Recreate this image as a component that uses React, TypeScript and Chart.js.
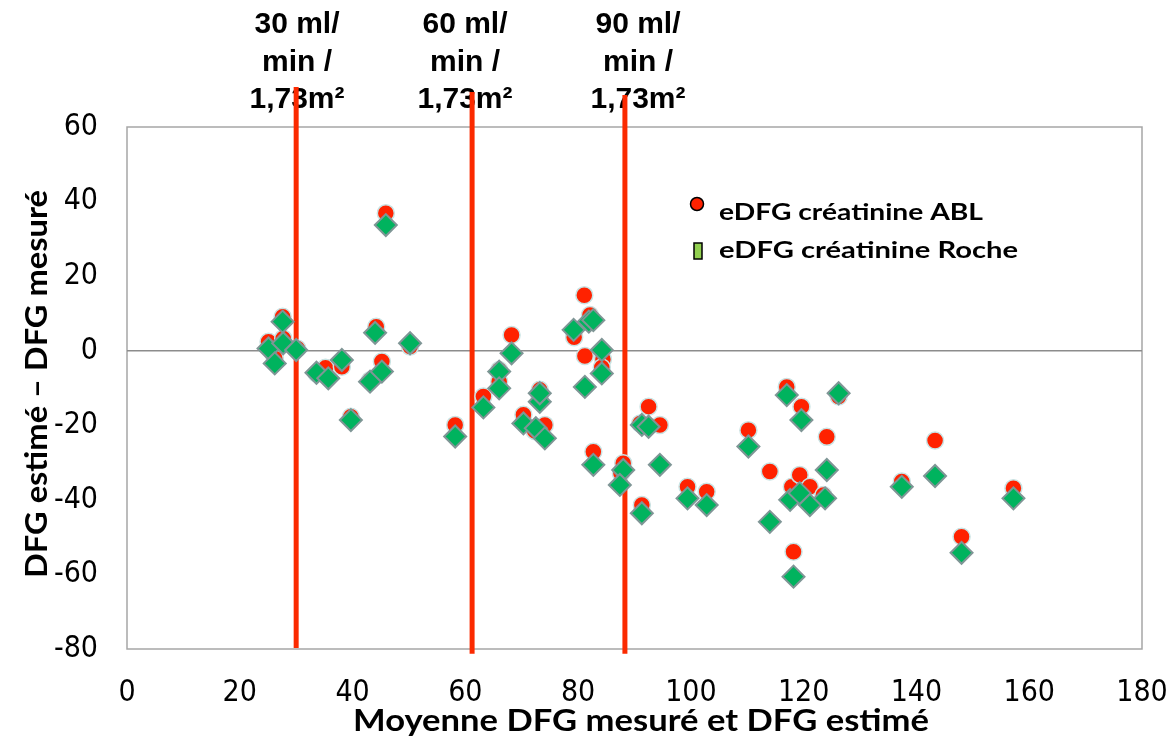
import React, { useEffect, useRef } from "react";
import { Chart, registerables } from "chart.js";

Chart.register(...registerables);

// Moyenne DFG mesuré / estimé (x) and difference estimé – mesuré (y)
const ablX = [25.1, 26.2, 27.6, 27.7, 30.2, 33.6, 35.2, 38.1, 39.7, 43.1, 44.2, 45.2, 45.9, 50.2,
  58.2, 63.2, 66.0, 66.0, 68.2, 70.3, 72.3, 73.2, 73.2, 74.1, 79.3, 81.1, 82.1, 81.2, 84.4, 84.2,
  82.7, 88.0, 87.6, 91.0, 92.5, 94.5, 91.3, 99.4, 102.8, 110.2, 114.0, 117.0, 117.9, 118.2, 119.3,
  119.6, 121.1, 123.5, 124.1, 126.2, 137.4, 143.3, 148.0, 157.2];
const ablY = [2.4, -2.0, 9.1, 3.3, 0.6, -6.1, -4.6, -4.3, -17.7, -7.9, 6.4, -2.9, 36.9, 1.1,
  -19.9, -12.3, -5.2, -8.3, 4.2, -17.2, -21.5, -10.5, -12.5, -19.9, 3.6, 14.9, 9.6, -1.4, -2.3, -4.5,
  -27.1, -30.2, -32.9, -19.5, -15.0, -19.9, -41.4, -36.5, -37.8, -21.3, -32.4, -9.7, -36.5, -53.9, -33.3,
  -15.0, -36.5, -38.7, -23.1, -12.3, -35.1, -24.1, -49.9, -36.9];

const rocheX = [25.1, 26.2, 27.6, 27.7, 30.0, 33.6, 35.7, 38.1, 39.7, 43.1, 44.0, 45.2, 45.9, 50.2,
  58.2, 63.2, 66.0, 66.0, 68.2, 70.3, 72.5, 73.2, 73.2, 74.1, 79.2, 81.9, 82.7, 81.2, 84.2, 84.2,
  82.7, 88.0, 87.4, 91.3, 92.5, 94.5, 91.3, 99.4, 102.8, 110.2, 114.0, 117.0, 117.6, 118.2, 119.3,
  119.6, 121.1, 123.8, 124.1, 126.2, 137.4, 143.3, 148.0, 157.2];
const rocheY = [0.6, -3.4, 7.8, 2.0, 0.2, -5.9, -7.4, -2.5, -18.6, -8.3, 4.8, -5.6, 33.7, 2.0,
  -23.0, -15.2, -5.6, -10.1, -0.7, -19.5, -20.8, -13.7, -11.4, -23.5, 5.6, 7.8, 8.2, -9.7, 0.2, -6.1,
  -30.6, -32.0, -36.0, -19.9, -20.4, -30.6, -43.6, -39.6, -41.4, -25.7, -45.9, -11.9, -40.0, -60.6, -38.2,
  -18.6, -41.4, -39.6, -32.0, -11.4, -36.5, -33.6, -54.2, -39.6];

// Seuils de DFG (ml/min/1,73m²)
const thresholdX = [30, 61.2, 88.3];
const thresholdTop = [70.7, 69.4, 68.6];
const thresholdBottom = [-79.7, -81.3, -81.3];
const thresholdLabels = [
  ["30 ml/", "min /", "1,73m²"],
  ["60 ml/", "min /", "1,73m²"],
  ["90 ml/", "min /", "1,73m²"],
];
const thresholdLabelCenter = [297, 465, 638];

const seriesNames = ["eDFG créatinine ABL", "eDFG créatinine Roche"];
const xTitle = "Moyenne DFG mesuré et DFG estimé";
const yTitle = "DFG estimé – DFG mesuré";

const X_MIN = 0, X_MAX = 180, X_STEP = 20;
const Y_MIN = -80, Y_MAX = 60, Y_STEP = 20;

function fitText(ctx: CanvasRenderingContext2D, text: string, x: number, y: number, width: number, align: CanvasTextAlign) {
  const w = ctx.measureText(text).width;
  const sx = width / w;
  ctx.save();
  ctx.translate(x, y);
  ctx.scale(sx, 1);
  ctx.textAlign = align;
  ctx.fillText(text, 0, 0);
  ctx.restore();
}

const decorPlugin = {
  id: "decor",
  beforeDatasetsDraw(chart: any) {
    const { ctx, chartArea: a, scales } = chart;
    const xs = scales.x, ys = scales.y;
    ctx.save();
    // frame
    ctx.strokeStyle = "#a6a6a6";
    ctx.lineWidth = 1.5;
    ctx.strokeRect(a.left, a.top, a.right - a.left, a.bottom - a.top);
    // zero line
    const y0 = ys.getPixelForValue(0);
    ctx.strokeStyle = "#8c8c8c";
    ctx.beginPath();
    ctx.moveTo(a.left, y0);
    ctx.lineTo(a.right, y0);
    ctx.stroke();

    // threshold captions
    ctx.fillStyle = "#000";
    ctx.font = "bold 30px 'Liberation Sans', Arial, sans-serif";
    ctx.textAlign = "center";
    ctx.textBaseline = "alphabetic";
    thresholdLabels.forEach((lines, i) => {
      lines.forEach((t, j) => {
        ctx.fillText(t, thresholdLabelCenter[i], 33 + j * 37.5);
      });
    });

    // threshold lines
    ctx.strokeStyle = "#fb2a00";
    ctx.lineWidth = 5;
    thresholdX.forEach((v, i) => {
      const px = xs.getPixelForValue(v);
      ctx.beginPath();
      ctx.moveTo(px, ys.getPixelForValue(thresholdTop[i]));
      ctx.lineTo(px, ys.getPixelForValue(thresholdBottom[i]));
      ctx.stroke();
    });
    ctx.restore();
  },
  afterDraw(chart: any) {
    const { ctx } = chart;
    ctx.save();
    ctx.fillStyle = "#000";
    ctx.textBaseline = "alphabetic";
    // axis titles
    ctx.font = "bold 31px Lato, 'Open Sans', sans-serif";
    fitText(ctx, xTitle, (353 + 929) / 2, 731, 576, "center");
    ctx.save();
    ctx.translate(47, 384);
    ctx.rotate(-Math.PI / 2);
    fitText(ctx, yTitle, 0, 0, 388, "center");
    ctx.restore();

    // legend
    ctx.beginPath();
    ctx.arc(697, 204, 6.5, 0, Math.PI * 2);
    ctx.fillStyle = "#ff2200";
    ctx.fill();
    ctx.strokeStyle = "#000";
    ctx.lineWidth = 1.5;
    ctx.stroke();
    ctx.fillStyle = "#92d050";
    ctx.fillRect(694, 243, 8, 16);
    ctx.strokeRect(694, 243, 8, 16);
    ctx.fillStyle = "#000";
    ctx.font = "bold 22px Lato, 'Open Sans', sans-serif";
    fitText(ctx, seriesNames[0], 719, 220, 264, "left");
    fitText(ctx, seriesNames[1], 719, 258, 299, "left");
    ctx.restore();
  },
};

export default function App() {
  const ref = useRef<HTMLCanvasElement | null>(null);
  useEffect(() => {
    if (!ref.current) return;
    const chart = new Chart(ref.current, {
      type: "scatter",
      data: {
        datasets: [
          {
            label: seriesNames[0],
            data: ablX.map((x, i) => ({ x, y: ablY[i] })),
            pointStyle: "circle",
            pointRadius: 8.5,
            backgroundColor: "#ff2200",
            borderColor: "#c9e4e4",
            borderWidth: 1.5,
            order: 2,
          },
          {
            label: seriesNames[1],
            data: rocheX.map((x, i) => ({ x, y: rocheY[i] })),
            pointStyle: "rectRot",
            pointRadius: 11,
            backgroundColor: "#00b35e",
            borderColor: "#7f9696",
            borderWidth: 2,
            order: 1,
          },
        ],
      },
      options: {
        responsive: false,
        animation: false,
        layout: { padding: { top: 127, right: 30, left: 0, bottom: 0 } },
        plugins: { legend: { display: false }, tooltip: { enabled: false } },
        scales: {
          x: {
            type: "linear",
            min: X_MIN,
            max: X_MAX,
            grid: { display: false, drawTicks: false },
            border: { display: false },
            ticks: {
              stepSize: X_STEP,
              padding: 26,
              color: "#000",
              maxRotation: 0,
              font: { family: "'Liberation Sans Narrow', 'DejaVu Sans Condensed', sans-serif", size: 30 },
            },
            afterFit: (s: any) => {
              s.height = 736 - 649;
              s.paddingLeft = 0;
              s.paddingRight = 0;
            },
          },
          y: {
            type: "linear",
            min: Y_MIN,
            max: Y_MAX,
            grid: { display: false, drawTicks: false },
            border: { display: false },
            ticks: {
              stepSize: Y_STEP,
              padding: 29,
              color: "#000",
              font: { family: "'Liberation Sans Narrow', 'DejaVu Sans Condensed', sans-serif", size: 30 },
            },
            afterFit: (s: any) => {
              s.width = 127;
              s.paddingTop = 0;
              s.paddingBottom = 0;
            },
          },
        },
      },
      plugins: [decorPlugin],
    });
    return () => chart.destroy();
  }, []);
  return (
    <div style={{ position: "fixed", left: 0, top: 0, width: 1172, height: 736, background: "#fff" }}>
      <canvas ref={ref} width={1172} height={736} />
    </div>
  );
}
